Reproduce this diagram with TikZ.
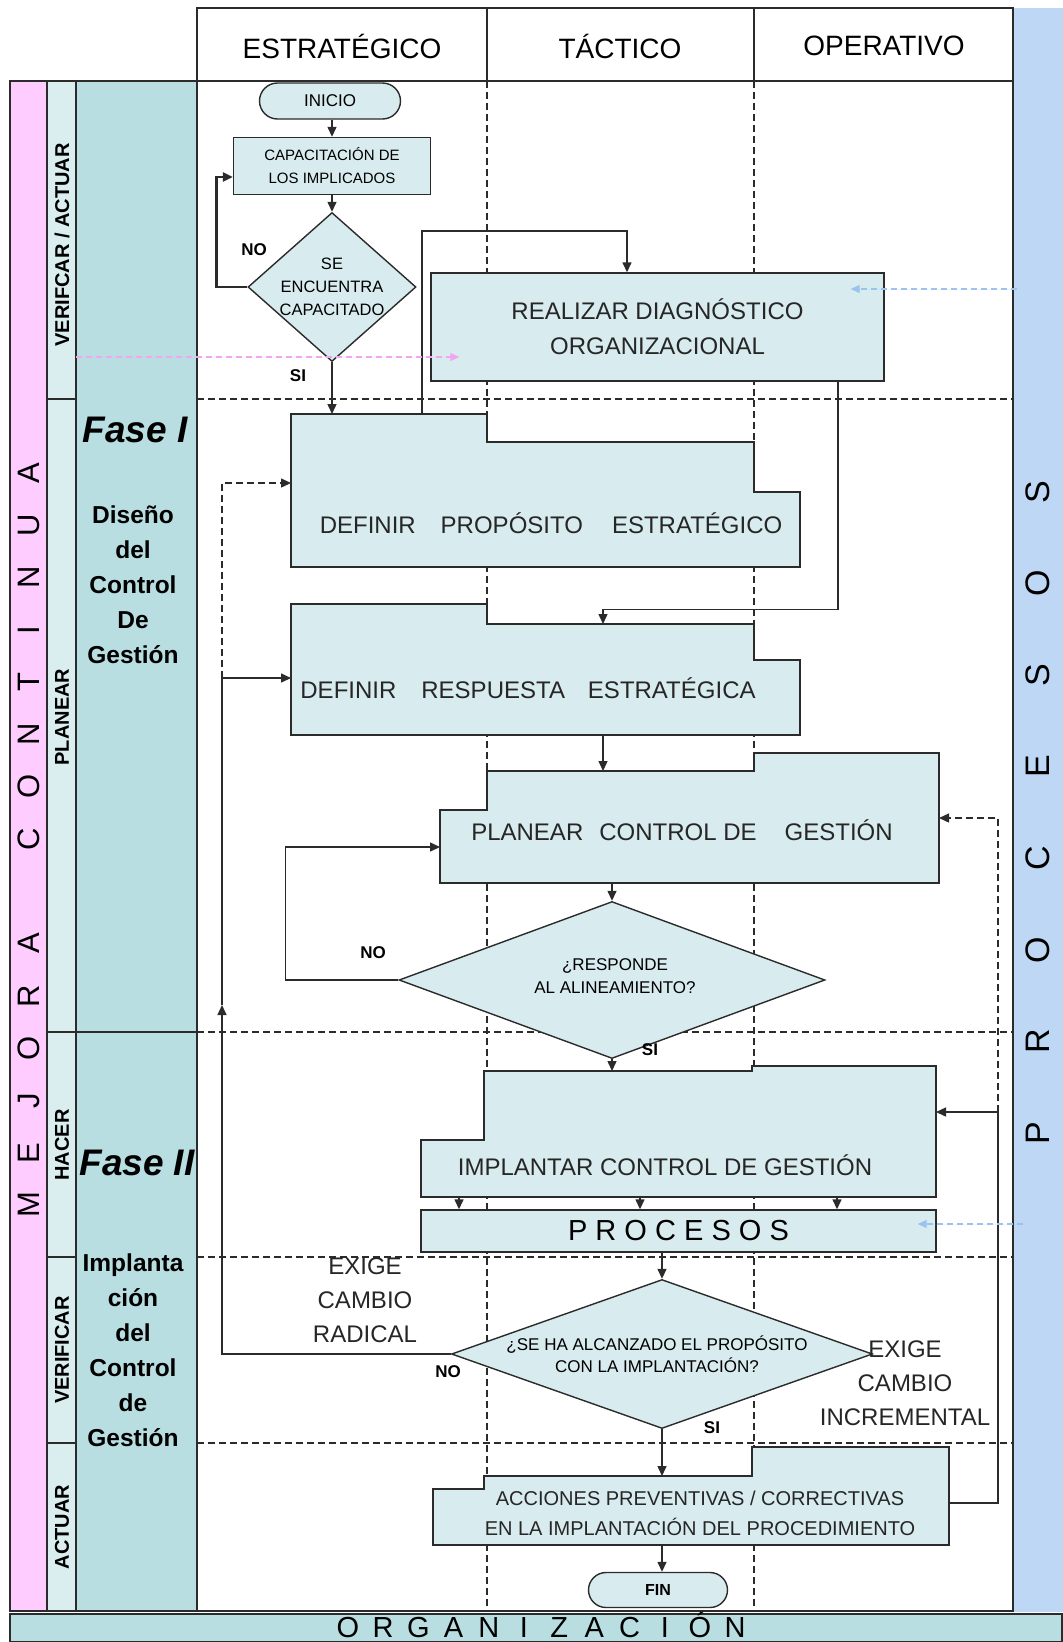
\documentclass[tikz,border=0pt]{standalone}
\usepackage{fontspec}
\setmainfont{Liberation Sans}
\usetikzlibrary{arrows.meta,positioning,shapes.geometric,shapes.misc,calc}
\definecolor{GCbox}{HTML}{D8EBEE}
\definecolor{GCteal}{HTML}{B8DEE2}
\definecolor{GCstage}{HTML}{DAEEF0}
\definecolor{GCpink}{HTML}{FFCCFF}
\definecolor{GCblue}{HTML}{BDD7F4}
\definecolor{GCline}{HTML}{2B2B2B}
\definecolor{GCpinkhint}{HTML}{F2A6EE}
\definecolor{GCbluehint}{HTML}{9CC2EE}
\newcommand{\pxfont}[2]{\fontsize{#1}{#2}\selectfont}
\tikzset{
  gc/process/.style={draw=GCline, fill=GCbox, line width=1.4pt, align=center, inner sep=0pt},
  gc/shape/.style={draw=GCline, fill=GCbox, line width=1.4pt},
  gc/decision/.style={draw=GCline, fill=GCbox, diamond, line width=1.4pt, inner sep=0pt},
  gc/terminal/.style={draw=GCline, fill=GCbox, rounded rectangle, line width=1.4pt, inner sep=0pt},
  gc/text/.style={align=center, text=black!85, font=\pxfont{24}{35}},
  gc/line/.style={draw=GCline, line width=1.4pt},
  gc/arr/.style={gc/line, -{Triangle[length=10pt,width=9pt]}},
  gc/darr/.style={gc/arr, dash pattern=on 7pt off 4pt},
  gc/yn/.style={font=\bfseries\pxfont{17}{20}},
  gc/note/.style={align=center, text=black!85, font=\pxfont{24}{34}},
  gc/lane/.style={draw=GCline, line width=1.1pt, dash pattern=on 7pt off 4pt},
  gc/frame/.style={draw=GCline, line width=1.4pt},
  gc/stage/.style={rotate=90, font=\bfseries\pxfont{20}{24}},
  gc/fase/.style={font=\bfseries\itshape\pxfont{37}{40}},
  gc/phase/.style={align=center, font=\bfseries\pxfont{24.5}{35}},
  gc/head/.style={font=\pxfont{28}{32}},
  gc/spaced/.style={font=\pxfont{31}{34}},
  gc/hint/.style={dash pattern=on 6pt off 4pt, line width=1.1pt, -{Triangle[length=9pt,width=8pt]}}
}
\begin{document}
\begin{tikzpicture}[x=1pt, y=-1pt]
\useasboundingbox (0,0) rectangle (1063,1642);
% bands and frame
\fill[GCblue] (1013,8) rectangle (1063,1612);
\filldraw[gc/frame, fill=GCpink] (10,81) rectangle (47,1611);
\filldraw[gc/frame, fill=GCstage] (47,81) rectangle (76,1611);
\filldraw[gc/frame, fill=GCteal] (76,81) rectangle (197,1611);
\draw[gc/frame] (197,8) rectangle (1013,1611);
\draw[gc/frame] (197,81) -- (1013,81);
\draw[gc/frame] (487,8) -- (487,81) (754,8) -- (754,81);
\filldraw[gc/frame, fill=GCteal] (10,1614) rectangle (1062,1642);
\foreach \y in {399,1257,1443} \draw[gc/frame] (47,\y) -- (76,\y);
\draw[gc/frame] (47,1032) -- (197,1032);
\foreach \y in {399,1032,1257,1443} \draw[gc/lane] (197,\y) -- (1013,\y);
\foreach \x in {487,754} \draw[gc/lane] (\x,81) -- (\x,1611);

% headers and side labels
\node[gc/head] (estr) at (342,46) {ESTRATÉGICO};
\node[gc/head] (tact) at (620,46) {TÁCTICO};
\node[gc/head] (oper) at (884,46) {OPERATIVO};
\node[gc/stage] (verifact) at (62,245) {VERIFCAR / ACTUAR};
\node[gc/stage] (planearlbl) at (62,717) {PLANEAR};
\node[gc/stage] (hacerlbl) at (62,1145) {HACER};
\node[gc/stage] (verificarlbl) at (62,1350) {VERIFICAR};
\node[gc/stage] (actuarlbl) at (62,1527) {ACTUAR};
\node[gc/fase] (fase1) at (135,430) {Fase I};
\node[gc/phase] (diseno) at (133,585) {Diseño\\del\\Control\\De\\Gestión};
\node[gc/fase] (fase2) at (137,1163) {Fase II};
\node[gc/phase] (implanta) at (133,1350) {Implanta\\ción\\del\\Control\\de\\Gestión};
\foreach \ch [count=\i from 0] in {M,E,J,O,R,A,{},C,O,N,T,I,N,U,A}
  \node[gc/spaced, rotate=90] (mc\i) at (29,{1205-52.3*\i}) {\ch};
\foreach \ch [count=\i from 0] in {P,R,O,C,E,S,O,S}
  \node[gc/spaced, font=\pxfont{34}{36}, rotate=90] (pv\i) at (1038,{1133-91.6*\i}) {\ch};
\foreach \ch [count=\i from 0] in {O,R,G,A,N,I,Z,A,C,I,Ó,N}
  \node[gc/spaced, font=\pxfont{29}{32}, anchor=base] (og\i) at ({348+35.2*\i},1637) {\ch};

% flow nodes
\node[gc/terminal, minimum width=141pt, minimum height=36pt, font=\pxfont{17}{20}] (inicio) at (330,101) {INICIO};
\node[gc/process, minimum width=197pt, minimum height=57pt, font=\pxfont{15}{23}] (capac) at (332,166) {CAPACITACIÓN DE\\LOS IMPLICADOS};
\node[gc/decision, minimum width=168pt, minimum height=149pt,
  label={[align=center, font=\pxfont{16.5}{23}]center:SE\\ENCUENTRA\\CAPACITADO}] (encuentra) at (332,287) {};
\node[gc/process, gc/text, minimum width=453pt, minimum height=108pt] (diag) at (657.5,327) {REALIZAR DIAGNÓSTICO\\ORGANIZACIONAL};

\filldraw[gc/shape] (291,414) -- (487,414) -- (487,442) -- (754,442) -- (754,492) -- (800,492) -- (800,567) -- (291,567) -- cycle;
\node[gc/text] (proposito) at (551,523) {DEFINIR\hspace{25pt}PROPÓSITO\hspace{29pt}ESTRATÉGICO};
\filldraw[gc/shape] (291,604) -- (487,604) -- (487,624) -- (754,624) -- (754,660) -- (800,660) -- (800,735) -- (291,735) -- cycle;
\node[gc/text] (respuesta) at (528,688) {DEFINIR\hspace{25pt}RESPUESTA\hspace{23pt}ESTRATÉGICA};
\filldraw[gc/shape] (440,810) -- (487,810) -- (487,771) -- (754,771) -- (754,753) -- (939,753) -- (939,883) -- (440,883) -- cycle;
\node[gc/text] (planear) at (682,830) {PLANEAR\hspace{16pt}CONTROL DE\hspace{28pt}GESTIÓN};
\node[gc/decision, minimum width=426pt, minimum height=157pt,
  label={[align=center, font=\pxfont{17}{23}, xshift=3pt, yshift=3.5pt]center:¿RESPONDE\\AL ALINEAMIENTO?}] (responde) at (612,980) {};
\filldraw[gc/shape] (421,1140) -- (484,1140) -- (484,1071) -- (752,1071) -- (752,1066) -- (936,1066) -- (936,1197) -- (421,1197) -- cycle;
\node[gc/text] (implantar) at (665,1165) {IMPLANTAR CONTROL DE GESTIÓN};
\node[gc/process, minimum width=515pt, minimum height=42pt, font=\pxfont{29}{32}] (procesos) at (678.5,1231) {P R O C E S O S};
\node[gc/decision, minimum width=421pt, minimum height=149pt,
  label={[align=center, font=\pxfont{17}{22}, xshift=-5pt]center:¿SE HA ALCANZADO EL PROPÓSITO\\CON LA IMPLANTACIÓN?}] (alcanzado) at (662,1354) {};
\filldraw[gc/shape] (433,1489) -- (484,1489) -- (484,1476) -- (752,1476) -- (752,1447) -- (949,1447) -- (949,1545) -- (433,1545) -- cycle;
\node[gc/text, font=\pxfont{20}{30}] (acciones) at (700,1513) {ACCIONES PREVENTIVAS / CORRECTIVAS\\EN LA IMPLANTACIÓN DEL PROCEDIMIENTO};
\node[gc/terminal, minimum width=139pt, minimum height=35pt, font=\bfseries\pxfont{16}{20}] (fin) at (658,1590) {FIN};

% connection points on the stepped boxes
\coordinate (prop-n) at (332,414);
\coordinate (prop-loop) at (422,414);
\coordinate (prop-w) at (291,483);
\coordinate (resp-n) at (603,624);
\coordinate (resp-s) at (603,735);
\coordinate (resp-w) at (291,678);
\coordinate (plan-n) at (603,771);
\coordinate (plan-s) at (612,883);
\coordinate (plan-w) at (440,847);
\coordinate (plan-e) at (939,818);
\coordinate (impl-n) at (612,1071);
\coordinate (impl-e) at (936,1112);
\coordinate (acc-n) at (662,1476);
\coordinate (acc-s) at (662,1545);
\coordinate (acc-e) at (949,1503);
\coordinate (radical-mid) at (222,1005);
\coordinate (incr-knee) at (998,1112);

% connectors
\draw[gc/arr] (inicio.south -| capac.north) -- (capac.north);
\draw[gc/arr] (capac) -- (encuentra);
\draw[gc/arr, line width=2.4pt] (encuentra.west) -- ++(-31,0) |- ([yshift=-11pt]capac.west);
\draw[gc/arr] (encuentra.south) -- (prop-n);
\draw[gc/arr] (prop-loop) -- ++(0,-183) -| ([xshift=-30.5pt]diag.north);
\draw[gc/arr] ([xshift=180.5pt]diag.south) -- ++(0,228) -| (resp-n);
\draw[gc/arr] (resp-s) -- (plan-n);
\draw[gc/arr] (plan-s) -- (responde.north);
\draw[gc/arr] (responde.west) -- ++(-113,0) |- (plan-w);
\draw[gc/arr] (responde.south) -- (impl-n);
\foreach \dx in {-219.5,-38.5,158.5}
  \draw[gc/arr] ([xshift=\dx pt, yshift=13pt]procesos.north) -- ([xshift=\dx pt]procesos.north);
\draw[gc/arr] (alcanzado.north |- procesos.south) -- (alcanzado.north);
\draw[gc/arr] (alcanzado.west) -| (radical-mid);
\draw[gc/arr] (radical-mid) |- (resp-w);
\draw[gc/darr] (radical-mid |- resp-w) |- (prop-w);
\draw[gc/arr] (alcanzado.south) -- (acc-n);
\draw[gc/arr] (acc-e) -| (incr-knee) -- (impl-e);
\draw[gc/darr] (incr-knee) |- (plan-e);
\draw[gc/arr] (acc-s) -- (acc-s |- fin.north);

% hints from the side bands
\draw[gc/hint, draw=GCpinkhint, fill=GCpinkhint] (76,357) -- ([xshift=29pt, yshift=-30pt]diag.west);
\draw[gc/hint, draw=GCbluehint, fill=GCbluehint] (1017,289) -- ([xshift=-34pt, yshift=38pt]diag.east);
\draw[gc/hint, draw=GCbluehint, fill=GCbluehint] (1023,1224) -- ([xshift=-19pt, yshift=7pt]procesos.east);

% labels
\node[gc/yn] (no1) at (254,250) {NO};
\node[gc/yn] (si1) at (298,376) {SI};
\node[gc/yn] (no2) at (373,953) {NO};
\node[gc/yn] (si2) at (650,1050) {SI};
\node[gc/yn] (no3) at (448,1372) {NO};
\node[gc/yn] (si3) at (712,1428) {SI};
\node[gc/note] (radical) at (365,1300) {EXIGE\\CAMBIO\\RADICAL};
\node[gc/note] (incremental) at (905,1383) {EXIGE\\CAMBIO\\INCREMENTAL};
\end{tikzpicture}
\end{document}
